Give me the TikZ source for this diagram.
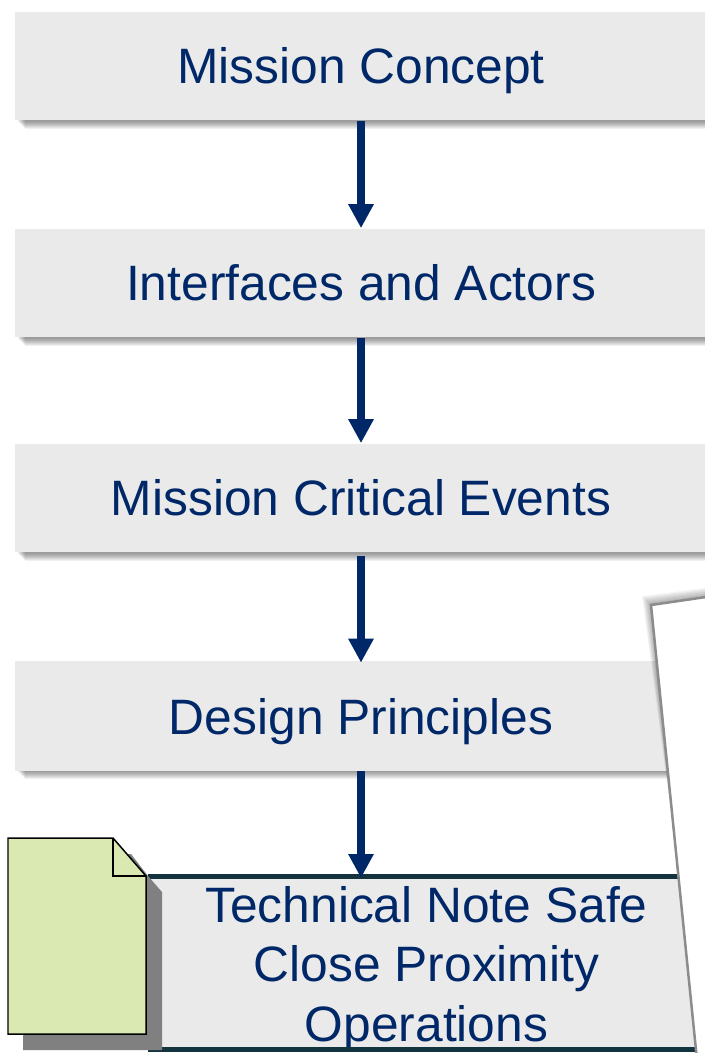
\documentclass[tikz,border=0pt]{standalone}
\usepackage{fontspec}
\setmainfont{Liberation Sans}
\usetikzlibrary{arrows.meta,backgrounds,calc}
\definecolor{boxgrey}{HTML}{EAEAEA}
\definecolor{navy}{HTML}{002868}
\definecolor{barteal}{HTML}{13343F}
\definecolor{docgreen}{HTML}{D9E9B1}
\tikzset{
	stepbox/.style={fill=boxgrey, text=navy, minimum width=13.84cm, minimum height=2.18cm, inner sep=0pt, text height=0.72cm, text depth=0pt, font=\fontsize{28.3}{33.7}\selectfont},
	flow/.style={draw=navy, line width=0.16cm, -{Triangle[width=0.48cm, length=0.48cm]}},
	bar/.style={draw=barteal, line width=0.096cm}
}
\def\boxshadow(#1){\foreach \k in {1,...,8} {\fill[black, opacity=0.06] ($(#1.south west)+(2+\k,-3)$) rectangle ($(#1.south east)+(-2,\k)$);}}

\begin{document}
\begin{tikzpicture}[x=0.02cm, y=-0.02cm]
	\useasboundingbox (0, 0) rectangle (705, 1053);
	\clip (0, 0) rectangle (705, 1053);
	
	\node[stepbox] (concept) at (361, 66) {Mission Concept};
	\node[stepbox] (actors) at (361, 283) {Interfaces and Actors};
	\node[stepbox] (events) at (361, 498) {Mission Critical Events};
	\node[stepbox, minimum height=2.2cm] (principles) at (361, 716) {Design Principles};
	\node[stepbox, minimum width=11.14cm, minimum height=3.45cm] (notebox) at (426.5, 962.75) {};
	\node[text=navy, align=center, inner sep=0pt, font=\fontsize{28.3}{33.7}\selectfont] (note) at (426.5, 969) {Technical Note Safe\\Close Proximity\\Operations};
	
	\begin{scope}[on background layer]
		\boxshadow(concept)
		\boxshadow(actors)
		\boxshadow(events)
		\boxshadow(principles)
	\end{scope}
	
	\coordinate (notetop) at (361, 878);
	\draw[flow] (concept) -- (actors);
	\draw[flow] (actors) -- (events);
	\draw[flow] ($(events.south)+(0, 3)$) -- ($(principles.north)+(0, 2)$);
	\draw[bar] (notebox.north west) -- (notebox.north east);
	\draw[bar] (notebox.south west) -- (notebox.south east);
	\draw[flow] (principles) -- (notetop);
	
	% document icon
	\fill[black!50] (23, 854) -- (131, 854) -- (148, 876) -- (162, 892) -- (162, 1050) -- (23, 1050) -- cycle;
	\draw[fill=docgreen, line width=0.03cm] (8, 838) -- (113, 838) -- (146, 876) -- (146, 1034) -- (8, 1034) -- cycle;
	\draw[line width=0.03cm] (113, 838) -- (113, 876) -- (146, 876);
	
	% callout over the right side
	\foreach \k in {1,...,9} {
		\fill[black, opacity=0.04] (651-\k, 605-\k) -- (720, 595-\k) -- (720, 800) -- (676, 850) -- cycle;
	}
	\draw[fill=white, draw=black!45, line width=0.05cm] (651, 605) -- (720, 595) -- (720, 1070) -- (698, 1070) -- cycle;
	
\end{tikzpicture}
\end{document}
